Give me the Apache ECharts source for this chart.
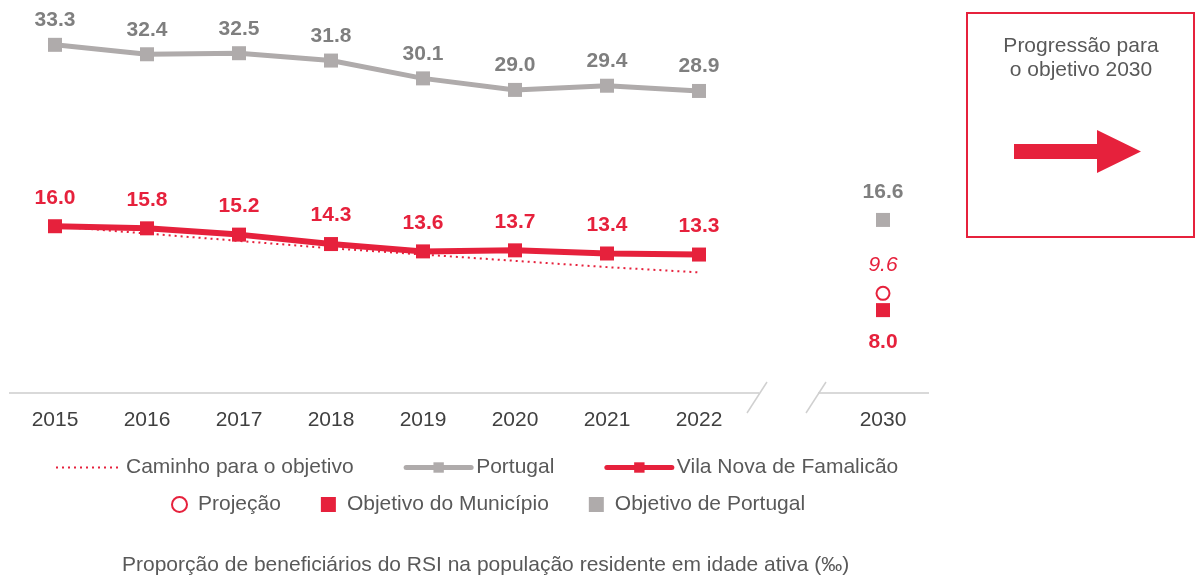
<!DOCTYPE html>
<html>
<head>
<meta charset="utf-8">
<script src="https://cdn.jsdelivr.net/npm/echarts@6/dist/echarts.min.js"></script>
<style>
  html, body { margin: 0; padding: 0; background: #fff; }
  #chart { width: 1195px; height: 575px; }
</style>
</head>
<body>
<div id="chart"></div>
<script>
// categorias (a posição vazia serve de intervalo entre 2022 e 2030)
const years = ['2015', '2016', '2017', '2018', '2019', '2020', '2021', '2022', '', '2030'];
// Portugal
const portugal = [33.3, 32.4, 32.5, 31.8, 30.1, 29.0, 29.4, 28.9];
// Vila Nova de Famalicão
const famalicao = [16.0, 15.8, 15.2, 14.3, 13.6, 13.7, 13.4, 13.3];
// caminho para o objetivo
const caminho = [16.0, 15.3, 14.6, 13.9, 13.3, 12.7, 12.1, 11.6];
// pontos de 2030
const projecao = [['2030', 9.6]];
const objMunicipio = [['2030', 8.0]];
const objPortugal = [['2030', 16.6]];

const RED = '#e6213c';
const GREY = '#afabab';
const GREY_TXT = '#7f7f7f';
const FONT = '"Liberation Sans", Arial, sans-serif';

const chart = echarts.init(document.getElementById('chart'));

const fmt = function (p) {
  const v = Array.isArray(p.value) ? p.value[1] : p.value;
  return v.toFixed(1);
};

const option = {
  animation: false,
  textStyle: { fontFamily: FONT },
  title: {
    text: 'Proporção de beneficiários do RSI na população residente em idade ativa (‰)',
    left: 117,
    top: 550,
    textStyle: { fontFamily: FONT, fontSize: 21, fontWeight: 'normal', color: '#595959' }
  },
  legend: [
    {
      data: [
        { name: 'Caminho para o objetivo', itemStyle: { opacity: 0 } },
        { name: 'Portugal', lineStyle: { width: 5, cap: 'round' } },
        { name: 'Vila Nova de Famalicão', lineStyle: { width: 5, cap: 'round' } }
      ],
      left: 50,
      top: 452,
      itemWidth: 65,
      itemHeight: 13,
      itemGap: 50,
      textStyle: { fontFamily: FONT, fontSize: 21, color: '#595959' }
    },
    {
      data: ['Projeção', 'Objetivo do Município', 'Objetivo de Portugal'],
      left: 166,
      top: 489,
      itemWidth: 15,
      itemHeight: 15,
      itemGap: 40,
      textStyle: { fontFamily: FONT, fontSize: 21, color: '#595959', padding: [0, 0, 0, 6] }
    }
  ],
  grid: { left: 9, right: 266, top: 27, bottom: 181 },
  xAxis: {
    type: 'category',
    data: years,
    boundaryGap: true,
    axisLine: { show: false },
    axisTick: { show: false },
    axisLabel: { color: '#404040', fontSize: 21, fontFamily: FONT, margin: 16 }
  },
  yAxis: {
    type: 'value',
    min: 0,
    max: 35,
    show: false,
    splitLine: { show: false }
  },
  series: [
    {
      name: 'Caminho para o objetivo',
      type: 'line',
      data: caminho,
      symbol: 'none',
      z: 1,
      lineStyle: { color: RED, width: 2, type: [2, 4] },
      itemStyle: { color: RED }
    },
    {
      name: 'Portugal',
      type: 'line',
      data: portugal,
      symbol: 'rect',
      symbolSize: 14,
      z: 2,
      lineStyle: { color: GREY, width: 5 },
      itemStyle: { color: GREY },
      label: {
        show: true, position: 'top', distance: 7, formatter: fmt,
        color: GREY_TXT, fontSize: 21, fontWeight: 'bold', fontFamily: FONT
      }
    },
    {
      name: 'Vila Nova de Famalicão',
      type: 'line',
      data: famalicao,
      symbol: 'rect',
      symbolSize: 14,
      z: 3,
      lineStyle: { color: RED, width: 6 },
      itemStyle: { color: RED },
      label: {
        show: true, position: 'top', distance: 11, formatter: fmt,
        color: RED, fontSize: 21, fontWeight: 'bold', fontFamily: FONT
      }
    },
    {
      name: 'Projeção',
      type: 'scatter',
      data: projecao,
      symbol: 'circle',
      symbolSize: 13,
      z: 4,
      itemStyle: { color: '#fff', borderColor: RED, borderWidth: 2, opacity: 1 },
      label: {
        show: true, position: 'top', distance: 10, formatter: fmt,
        color: RED, fontSize: 21, fontStyle: 'italic', fontFamily: FONT
      }
    },
    {
      name: 'Objetivo do Município',
      type: 'scatter',
      data: objMunicipio,
      symbol: 'rect',
      symbolSize: 14,
      z: 4,
      itemStyle: { color: RED, opacity: 1 },
      label: {
        show: true, position: 'bottom', distance: 15, formatter: fmt,
        color: RED, fontSize: 21, fontWeight: 'bold', fontFamily: FONT
      }
    },
    {
      name: 'Objetivo de Portugal',
      type: 'scatter',
      data: objPortugal,
      symbol: 'rect',
      symbolSize: 14,
      z: 4,
      itemStyle: { color: GREY, opacity: 1 },
      label: {
        show: true, position: 'top', distance: 10, formatter: fmt,
        color: GREY_TXT, fontSize: 21, fontWeight: 'bold', fontFamily: FONT
      }
    }
  ]
};

chart.setOption(option);

// eixo com quebra entre 2022 e 2030 + caixa "Progressão para o objetivo 2030"
const p0 = chart.convertToPixel({ gridIndex: 0 }, [0, 0]);
const pGap = chart.convertToPixel({ gridIndex: 0 }, [8, 0]);
const pEnd = chart.convertToPixel({ gridIndex: 0 }, [9, 0]);
const half = (pEnd[0] - pGap[0]) / 2;
const baseY = p0[1] - 1;
const axisStyle = { stroke: '#d9d9d9', lineWidth: 2 };

chart.setOption({
  graphic: [
    { type: 'line', shape: { x1: p0[0] - half, y1: baseY, x2: pGap[0] - 32, y2: baseY }, style: axisStyle, silent: true },
    { type: 'line', shape: { x1: pGap[0] + 27, y1: baseY, x2: pEnd[0] + half, y2: baseY }, style: axisStyle, silent: true },
    { type: 'line', shape: { x1: pGap[0] - 44, y1: baseY + 20, x2: pGap[0] - 24, y2: baseY - 11 }, style: { stroke: '#d0d0d0', lineWidth: 1.5 }, silent: true },
    { type: 'line', shape: { x1: pGap[0] + 15, y1: baseY + 20, x2: pGap[0] + 35, y2: baseY - 11 }, style: { stroke: '#d0d0d0', lineWidth: 1.5 }, silent: true },
    {
      type: 'rect',
      shape: { x: 967, y: 13, width: 227, height: 224 },
      style: { fill: 'none', stroke: RED, lineWidth: 2 },
      silent: true
    },
    {
      type: 'text',
      x: 1081,
      y: 58,
      style: {
        text: 'Progressão para\no objetivo 2030',
        fill: '#595959',
        font: '21px ' + FONT,
        align: 'center',
        verticalAlign: 'middle',
        lineHeight: 24
      },
      silent: true
    },
    {
      type: 'polygon',
      shape: {
        points: [[1014, 144], [1097, 144], [1097, 130], [1141, 151.5], [1097, 173], [1097, 159], [1014, 159]]
      },
      style: { fill: RED },
      silent: true
    }
  ]
});
</script>
</body>
</html>
